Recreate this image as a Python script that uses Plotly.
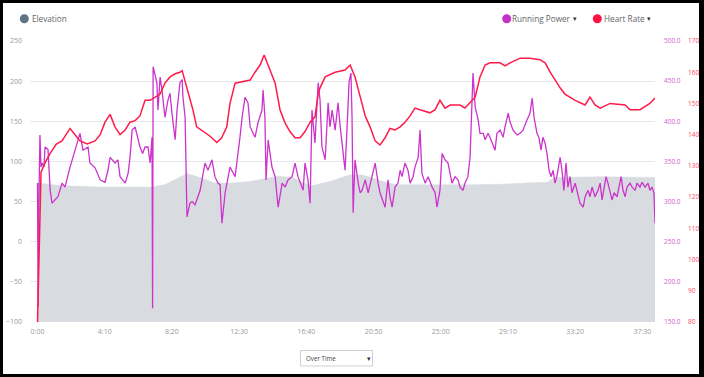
import plotly.graph_objects as go

# ---------------- data ----------------
hr_t = [0, 13, 28, 47, 70, 91, 121, 140, 158, 185, 214, 233, 251, 270, 288, 307, 326, 344, 363, 381,
        400, 419, 437, 456, 474, 493, 512, 530, 538, 555, 578, 592, 616, 642, 667, 685, 704, 716, 735,
        760, 791, 809, 828, 843, 858, 884, 902, 921, 939, 958, 977, 995, 1014, 1032, 1044, 1051, 1070,
        1107, 1144, 1163, 1181, 1200, 1219, 1237, 1256, 1274, 1293, 1311, 1330, 1349, 1367, 1386, 1404,
        1423, 1460, 1479, 1497, 1516, 1535, 1572, 1590, 1628, 1646, 1665, 1683, 1721, 1739, 1758, 1795,
        1832, 1869, 1888, 1907, 1944, 1962, 2000, 2037, 2055, 2074, 2093, 2130, 2186, 2204, 2241, 2278, 2297]
hr_bpm = [80, 128, 131, 134, 137, 138, 142, 140, 138, 137, 138, 140, 144, 146.5, 142.5, 140, 141.5, 144, 144.5, 146,
          151, 151, 152, 153, 156.5, 158.5, 159.5, 160, 160.5, 155.5, 148, 142.5, 141, 139.5, 137.5, 139, 142.5, 150, 156.5,
          157, 157.5, 160, 162.3, 165.5, 162.3, 156.5, 148, 143.7, 141, 139, 139, 141, 144, 145.7, 153, 155, 158.5,
          160, 160.7, 162.3, 158.5, 152, 146, 142.5, 138, 136.7, 139, 142, 141.5, 142.5, 144, 146, 148.5,
          148, 147, 148, 151, 148.5, 149.5, 149.5, 148.5, 152, 158.5, 162.3, 163, 163, 162, 163, 164.5,
          164.5, 164, 163, 160, 155, 153, 151, 149.5, 152, 149.5, 148.5, 150, 149.5, 148, 148, 150, 151.7]

pw_t = [0, 2, 4, 6, 9, 13, 17, 24, 28, 39, 47, 54, 65, 76, 91, 102, 121, 140, 158, 169, 188, 195, 214, 233,
        251, 262, 270, 288, 299, 307, 326, 337, 344, 352, 363, 381, 391, 400, 411, 419, 426, 428, 430, 437,
        444, 448, 456, 463, 474, 485, 493, 500, 512, 519, 530, 538, 541, 549, 556, 567, 575, 586, 605, 623,
        634, 649, 660, 671, 679, 686, 698, 716, 735, 753, 761, 772, 783, 791, 809, 820, 835, 839, 846, 850,
        858, 872, 884, 895, 910, 921, 932, 947, 958, 969, 977, 988, 995, 1006, 1014, 1021, 1032, 1044, 1051,
        1058, 1070, 1081, 1088, 1096, 1107, 1118, 1126, 1133, 1144, 1151, 1159, 1166, 1170, 1174, 1181, 1193,
        1200, 1207, 1219, 1230, 1244, 1256, 1267, 1274, 1293, 1304, 1311, 1319, 1330, 1341, 1349, 1356, 1367,
        1378, 1386, 1397, 1404, 1416, 1423, 1430, 1442, 1453, 1468, 1479, 1486, 1497, 1505, 1516, 1527, 1542,
        1553, 1564, 1572, 1583, 1590, 1601, 1609, 1616, 1620, 1628, 1639, 1646, 1658, 1665, 1676, 1683, 1691,
        1702, 1709, 1721, 1732, 1739, 1751, 1758, 1769, 1784, 1795, 1806, 1821, 1832, 1840, 1847, 1858, 1865,
        1873, 1880, 1888, 1895, 1903, 1910, 1918, 1925, 1932, 1944, 1951, 1958, 1966, 1973, 1981, 1988, 2000,
        2011, 2018, 2030, 2037, 2048, 2055, 2063, 2074, 2085, 2093, 2100, 2107, 2115, 2122, 2130, 2137, 2145,
        2156, 2163, 2171, 2178, 2186, 2193, 2204, 2212, 2223, 2230, 2241, 2249, 2260, 2271, 2278, 2286, 2293, 2297]
pw_w = [323, 169, 277, 368, 383, 343, 348, 343, 368, 365, 314, 298, 302, 306, 323, 318, 343, 364, 385, 364, 368, 348, 342, 327,
        324, 339, 355, 348, 352, 331, 323, 335, 355, 389, 393, 368, 360, 368, 368, 348, 380, 167, 468, 458,
        448, 414, 455, 439, 405, 426, 435, 410, 377, 414, 448, 452, 430, 405, 281, 298, 300, 296, 314, 348,
        339, 352, 331, 323, 321, 273, 311, 343, 331, 380, 405, 430, 423, 393, 380, 398, 414, 439, 405, 327,
        377, 343, 331, 293, 323, 318, 327, 331, 348, 331, 323, 314, 348, 327, 298, 414, 373, 448, 426,
        368, 352, 423, 393, 414, 389, 423, 393, 373, 339, 389, 449, 460, 405, 286, 352, 323,
        311, 314, 327, 311, 331, 348, 323, 311, 293, 327, 306, 293, 318, 323, 339, 331, 348,
        339, 323, 331, 343, 355, 389, 335, 323, 331, 318, 311, 293, 314, 360, 352, 348, 323,
        331, 327, 318, 314, 323, 331, 355, 410, 460, 418, 402, 385, 385, 377, 385, 380, 373,
        364, 385, 389, 380, 393, 410, 399, 389, 383, 385, 389, 402, 410, 429, 405, 385, 380,
        364, 380, 373, 360, 339, 331, 339, 323, 331, 355, 339, 314, 348, 318, 331, 311, 323,
        306, 298, 293, 306, 314, 306, 318, 306, 314, 323, 302, 318, 331, 323, 311, 302, 311,
        306, 318, 331, 314, 306, 318, 323, 318, 314, 323, 318, 324, 318, 323, 314, 318, 311, 273]

el_t = [0, 84, 233, 419, 474, 530, 556, 605, 660, 716, 791, 891, 950, 1014, 1088, 1163, 1211, 1285, 1337,
        1609, 1721, 1832, 1895, 1925, 2093, 2297]
el_m = [73, 70, 68, 68, 71, 80, 85, 80, 73, 73, 75, 81.5, 80, 69.5, 75, 83.5, 83, 75, 71,
        71, 71.5, 73.5, 74, 80, 81, 80]

x_tickvals = [0, 250, 500, 750, 1000, 1250, 1500, 1750, 2000, 2250]
x_ticktext = ["0:00", "4:10", "8:20", "12:30", "16:40", "20:50", "25:00", "29:10", "33:20", "37:30"]
elev_ticks = [-100, -50, 0, 50, 100, 150, 200, 250]
pw_ticks = [150, 200, 250, 300, 350, 400, 450, 500]
hr_ticks = [80, 90, 100, 110, 120, 130, 140, 150, 160, 170]

# ---------------- layout helpers ----------------
W, H = 704, 377
L, R, T, B = 30, 4, 41, 55
PLOT_RIGHT = 655
paper_w = W - L - R
paper_h = H - T - B
dom_end = (PLOT_RIGHT - L) / paper_w


def px(x):
    return (x - L) / paper_w


def py(y):
    return (H - B - y) / paper_h


FONT = "Open Sans"
GREY_FILL = "#d8dce0"
PW_COL = "#cc33cc"
HR_COL = "#ff1a4a"

fig = go.Figure()
fig.add_trace(go.Scatter(x=[el_t[0], el_t[-1]], y=[elev_ticks[0], elev_ticks[0]], mode="lines",
                         line=dict(width=0, color=GREY_FILL), hoverinfo="skip", showlegend=False))
fig.add_trace(go.Scatter(x=el_t, y=el_m, mode="lines", fill="tonexty", fillcolor=GREY_FILL,
                         line=dict(width=0.5, color=GREY_FILL), name="Elevation", showlegend=False))
fig.add_trace(go.Scatter(x=pw_t, y=pw_w, mode="lines", yaxis="y2", line=dict(width=1.3, color=PW_COL),
                         name="Running Power", showlegend=False))
fig.add_trace(go.Scatter(x=hr_t, y=hr_bpm, mode="lines", yaxis="y3", line=dict(width=1.5, color=HR_COL),
                         name="Heart Rate", showlegend=False))

shapes = []
# border of the screenshot
for (x0, y0, x1, y1) in [(0, 0, W, 3), (0, 0, 3, H), (0, 374, W, H), (699, 0, W, H)]:
    shapes.append(dict(type="rect", xref="paper", yref="paper", x0=px(x0), x1=px(x1), y0=py(y1), y1=py(y0),
                       fillcolor="black", line=dict(width=0), layer="above"))
# legend dots
for cx, col in [(24.3, "#5f7386"), (506.7, "#c42fc4"), (597.3, "#ff1040")]:
    r = 4.5
    shapes.append(dict(type="circle", xref="paper", yref="paper", x0=px(cx - r), x1=px(cx + r),
                       y0=py(18.7 + r), y1=py(18.7 - r), fillcolor=col, line=dict(width=0)))
# dropdown box
shapes.append(dict(type="rect", xref="paper", yref="paper", x0=px(300.5), x1=px(372.5), y0=py(366), y1=py(350.5),
                   fillcolor="white", line=dict(width=1, color="#cfcfcf")))

annotations = []


def txt(x, y, s, size, color, anchor="left"):
    annotations.append(dict(xref="paper", yref="paper", x=px(x), y=py(y), text=s, showarrow=False,
                            xanchor=anchor, yanchor="middle", xshift=0, borderpad=0,
                            font=dict(family=FONT, size=size, color=color)))


txt(30.5, 18.7, "Elevation", 8.2, "#666666")
txt(510.5, 18.7, "Running Power", 8.2, "#666666")
txt(575, 18.7, "▾", 7, "#333333", anchor="center")
txt(602.5, 18.7, "Heart Rate", 8.2, "#666666")
txt(649, 18.7, "▾", 7, "#333333", anchor="center")
txt(305, 358.5, "Over Time", 6.2, "#444444")
txt(368.5, 358.5, "▾", 6.5, "#333333", anchor="center")

fig.update_layout(
    width=W, height=H,
    margin=dict(l=L, r=R, t=T, b=B, pad=0),
    paper_bgcolor="white", plot_bgcolor="white",
    showlegend=False,
    font=dict(family=FONT),
    xaxis=dict(domain=[0, dom_end], range=[-28, 2297], tickmode="array", tickvals=x_tickvals,
               ticktext=x_ticktext, showgrid=False, zeroline=False, showline=False, ticks="",
               tickfont=dict(size=7, color="#9a9a9a", family=FONT), ticklabelstandoff=4),
    yaxis=dict(range=[-100, 250], tickmode="array", tickvals=elev_ticks, showgrid=True, gridcolor="#e8e8e8",
               gridwidth=1, zeroline=False, showline=False, ticks="",
               tickfont=dict(size=7, color="#9a9a9a", family=FONT), ticklabelstandoff=7),
    yaxis2=dict(overlaying="y", side="right", anchor="x", range=[150, 500], tickmode="array", tickvals=pw_ticks,
                tickformat=".1f", showgrid=False, zeroline=False, showline=False, ticks="",
                tickfont=dict(size=6.5, color="#d25cd2", family=FONT), ticklabelstandoff=8),
    yaxis3=dict(overlaying="y", side="right", anchor="free", position=px(686), range=[80, 170], tickmode="array",
                tickvals=hr_ticks, showgrid=False, zeroline=False, showline=False, ticks="",
                tickfont=dict(size=6.5, color="#ff4a6a", family=FONT), ticklabelstandoff=1),
    shapes=shapes,
    annotations=annotations,
)

fig.write_html("out.html", config={"displayModeBar": False},
               post_script="document.body.style.margin='0';document.body.style.overflow='hidden';")
